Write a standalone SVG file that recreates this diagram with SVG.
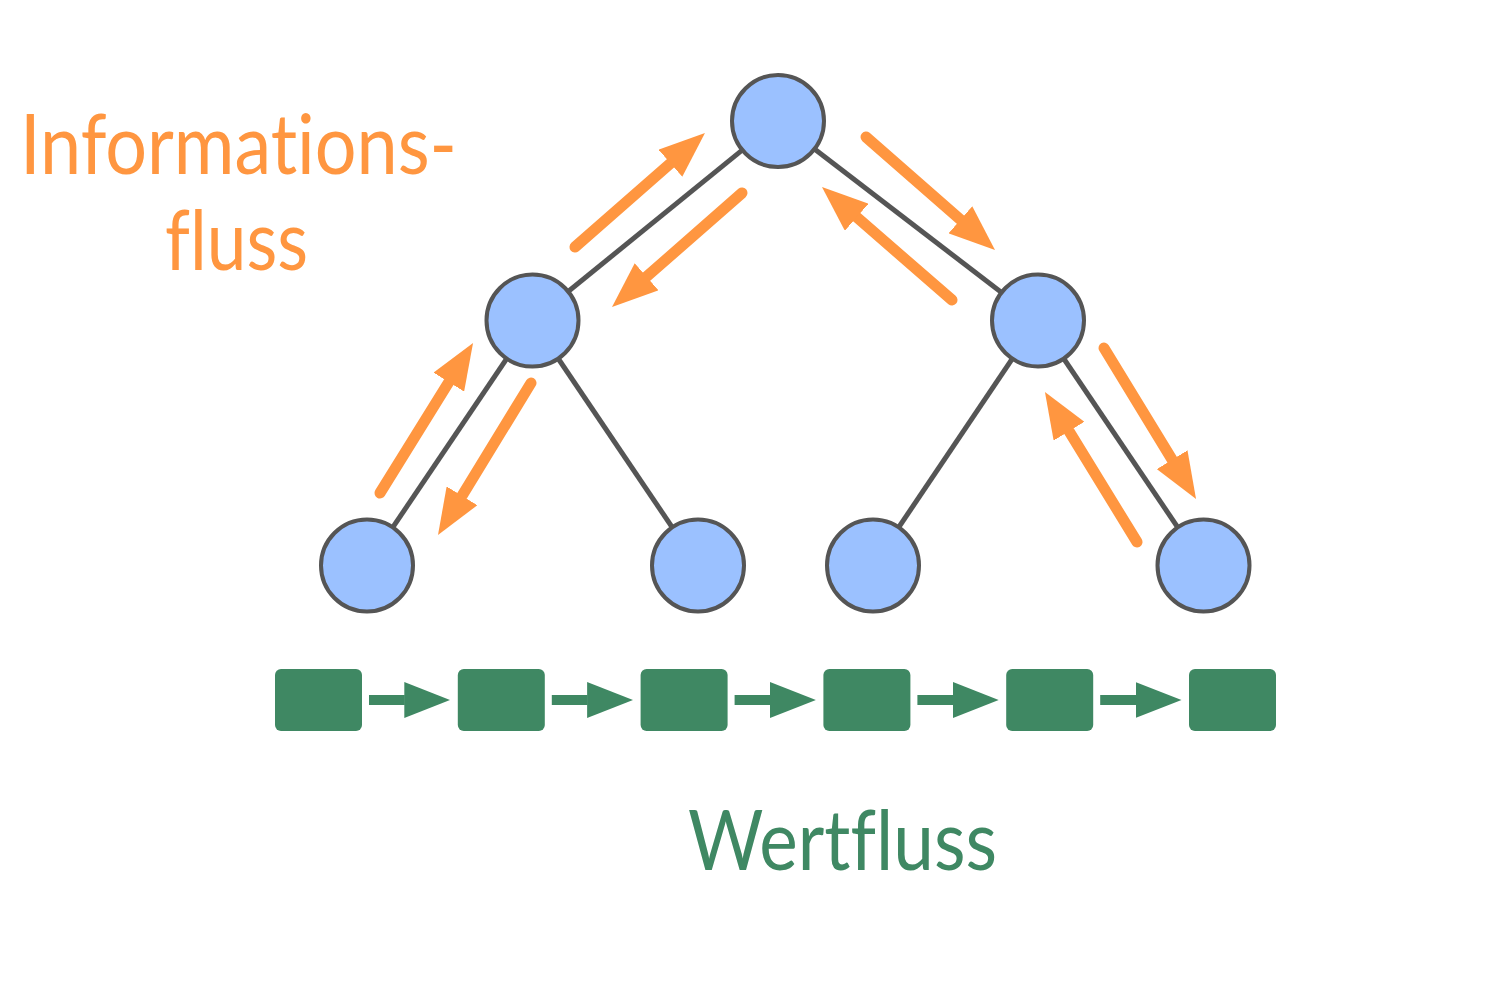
<svg xmlns="http://www.w3.org/2000/svg" width="1497" height="991" viewBox="0 0 1497 991">
<style>
.edge{stroke:#555555;stroke-width:5;fill:none}
.node{fill:#9BC1FF;stroke:#555555;stroke-width:4}
.info{stroke:#FF9640;stroke-width:11;stroke-linecap:round;fill:none}
.val{stroke:#3F8863;stroke-width:10;fill:none}
.sq{fill:#3F8863}
.lbl{font-family:Lato,"Liberation Sans",sans-serif;font-size:84px;font-variant-ligatures:none;font-feature-settings:"liga" 0,"clig" 0,"dlig" 0}
</style>
<defs>
<marker id="ho" viewBox="0 0 46 36" markerUnits="userSpaceOnUse" markerWidth="46" markerHeight="36" refX="0" refY="18" orient="auto">
<path d="M0,0 L46,18 L0,36 Z" fill="#FF9640"/>
</marker>
<marker id="hg" viewBox="0 0 46 36" markerUnits="userSpaceOnUse" markerWidth="46" markerHeight="36" refX="0.5" refY="18" orient="auto">
<path d="M0,0 L46,18 L0,36 Z" fill="#3F8863"/>
</marker>
</defs>
<rect width="1497" height="991" fill="#ffffff"/>
<g id="connectors">
<line class="edge" x1="778" y1="121" x2="532.5" y2="320.5"/>
<line class="edge" x1="778" y1="121" x2="1038" y2="320.5"/>
<line class="edge" x1="532.5" y1="320.5" x2="367" y2="565.5"/>
<line class="edge" x1="532.5" y1="320.5" x2="698" y2="565.5"/>
<line class="edge" x1="1038" y1="320.5" x2="873" y2="565.5"/>
<line class="edge" x1="1038" y1="320.5" x2="1203.5" y2="565.5"/>
<line class="info" x1="575" y1="247" x2="670.4" y2="163.3" marker-end="url(#ho)"/>
<line class="info" x1="742" y1="193" x2="646.6" y2="276.7" marker-end="url(#ho)"/>
<line class="info" x1="866" y1="137" x2="960.4" y2="219.7" marker-end="url(#ho)"/>
<line class="info" x1="952" y1="300" x2="856.7" y2="217.2" marker-end="url(#ho)"/>
<line class="info" x1="380" y1="493" x2="448.8" y2="382.1" marker-end="url(#ho)"/>
<line class="info" x1="531" y1="383" x2="462" y2="495.8" marker-end="url(#ho)"/>
<line class="info" x1="1104" y1="348" x2="1172.1" y2="459.7" marker-end="url(#ho)"/>
<line class="info" x1="1137" y1="542" x2="1069" y2="431.2" marker-end="url(#ho)"/>
<line class="val" x1="369" y1="700" x2="404.8" y2="700" marker-end="url(#hg)"/>
<line class="val" x1="551.8" y1="700" x2="587.6" y2="700" marker-end="url(#hg)"/>
<line class="val" x1="734.6" y1="700" x2="770.4" y2="700" marker-end="url(#hg)"/>
<line class="val" x1="917.4" y1="700" x2="953.2" y2="700" marker-end="url(#hg)"/>
<line class="val" x1="1100.2" y1="700" x2="1136" y2="700" marker-end="url(#hg)"/>
</g>
<g id="n-root"><circle class="node" cx="778" cy="121" r="46"/></g>
<g id="n-l"><circle class="node" cx="532.5" cy="320.5" r="46"/></g>
<g id="n-r"><circle class="node" cx="1038" cy="320.5" r="46"/></g>
<g id="n-ll"><circle class="node" cx="367" cy="565.5" r="46"/></g>
<g id="n-lr"><circle class="node" cx="698" cy="565.5" r="46"/></g>
<g id="n-rl"><circle class="node" cx="873" cy="565.5" r="46"/></g>
<g id="n-rr"><circle class="node" cx="1203.5" cy="565.5" r="46"/></g>
<g id="v1"><rect class="sq" x="275" y="669" width="87" height="62" rx="6"/></g>
<g id="v2"><rect class="sq" x="457.8" y="669" width="87" height="62" rx="6"/></g>
<g id="v3"><rect class="sq" x="640.6" y="669" width="87" height="62" rx="6"/></g>
<g id="v4"><rect class="sq" x="823.4" y="669" width="87" height="62" rx="6"/></g>
<g id="v5"><rect class="sq" x="1006.2" y="669" width="87" height="62" rx="6"/></g>
<g id="v6"><rect class="sq" x="1189" y="669" width="87" height="62" rx="6"/></g>
<g id="label-info">
<text class="lbl" x="20" y="174" fill="#FF9640" textLength="437" lengthAdjust="spacingAndGlyphs">Informations-</text>
<text class="lbl" x="165" y="270" fill="#FF9640" textLength="143" lengthAdjust="spacingAndGlyphs">fluss</text>
</g>
<g id="label-wert">
<text class="lbl" x="688" y="870" fill="#3F8863" textLength="309" lengthAdjust="spacingAndGlyphs">Wertfluss</text>
</g>
</svg>
